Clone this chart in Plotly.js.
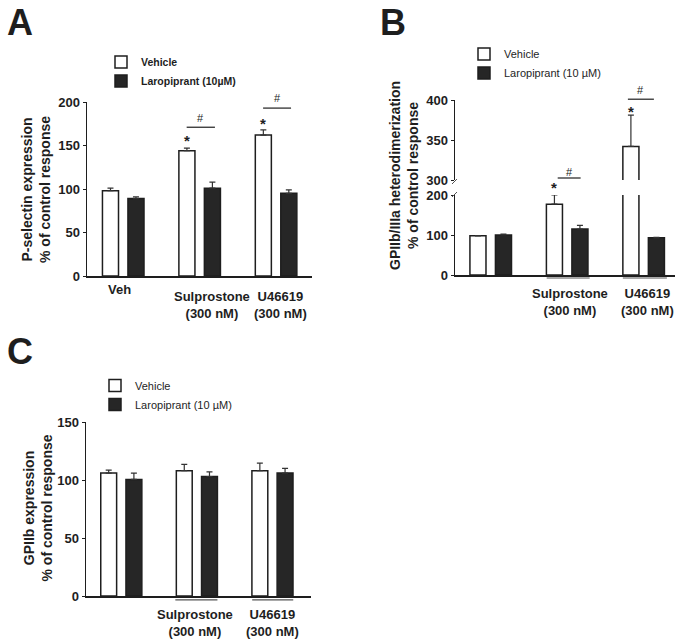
<!DOCTYPE html>
<html><head><meta charset="utf-8">
<script src="https://cdn.plot.ly/plotly-3.0.1.min.js"></script>
<style>html,body{margin:0;padding:0;background:#fff}</style>
</head><body><div id="chart" style="width:684px;height:642px"></div>
<script>
// ---------------- data ----------------
const groups = ["Veh", "Sulprostone", "U46619"];
const labelsA = ["Veh", "Sulprostone<br>(300 nM)", "U46619<br>(300 nM)"];
const labelsBC = ["", "Sulprostone<br>(300 nM)", "U46619<br>(300 nM)"];

// Panel A: P-selectin expression (% of control response)
const vehicleA = [98, 144, 162];
const vehicleErrA = [3, 3, 6];
const laroA = [89, 101, 95];
const laroErrA = [2, 7, 4];

// Panel B: GPIIb/IIIa heterodimerization (% of control response)
const vehicleB = [98, 177, 342];
const vehicleErrB = [0.5, 23, 39];
const laroB = [100, 115, 93];
const laroErrB = [2, 9, 1];

// Panel C: GPIIb expression (% of control response)
const vehicleC = [106, 108, 108];
const vehicleErrC = [2.5, 5.5, 6.5];
const laroC = [100.5, 103, 106];
const laroErrC = [5.5, 4, 4];

const ticksA = [0, 50, 100, 150, 200];
const ticksBlow = [0, 100, 200];
const ticksBup = [300, 350, 400];
const ticksC = [0, 50, 100, 150];

// ---------------- layout geometry (px) ----------------
const W = 684, H = 642;
const G = {
  A: {x: [87, 312], y: [102, 276], xr: [-0.474, 2.47], yr: [0, 200]},
  B: {x: [455, 675], y: [195, 275], xr: [-0.467, 2.41], yr: [0, 200]},
  Bu: {x: [455, 675], y: [100, 180], xr: [-0.467, 2.41], yr: [300, 400]},
  C: {x: [86, 311], y: [422, 596], xr: [-0.467, 2.51], yr: [0, 150]}
};
const domX = g => [g.x[0] / W, g.x[1] / W];
const domY = g => [1 - g.y[1] / H, 1 - g.y[0] / H];
// data -> paper
const px = (g, idx) => { const f = (idx - g.xr[0]) / (g.xr[1] - g.xr[0]); return (g.x[0] + f * (g.x[1] - g.x[0])) / W; };
const py = (g, v) => { const f = (v - g.yr[0]) / (g.yr[1] - g.yr[0]); return 1 - (g.y[1] - f * (g.y[1] - g.y[0])) / H; };
const ppx = p => p / W, ppy = p => 1 - p / H;

const FONT = "Arial, 'Liberation Sans', Helvetica, sans-serif";
const INK = '#1e1e1e';
const DARK = '#262626';

function pair(veh, vehErr, laro, laroErr, xa, ya, legend, show, laroName) {
  const zeros = veh.map(() => 0);
  return [
    {type: 'bar', name: 'Vehicle', x: groups, y: veh, xaxis: xa, yaxis: ya,
     legend: legend, showlegend: show,
     marker: {color: '#ffffff', line: {color: INK, width: 1.5}},
     error_y: {type: 'data', symmetric: false, array: vehErr, arrayminus: zeros,
               color: '#333', thickness: 1.2, width: 3}},
    {type: 'bar', name: laroName, x: groups, y: laro, xaxis: xa, yaxis: ya,
     legend: legend, showlegend: show,
     marker: {color: DARK, line: {color: INK, width: 1.5}},
     error_y: {type: 'data', symmetric: false, array: laroErr, arrayminus: zeros,
               color: '#333', thickness: 1.2, width: 3}}
  ];
}

const traces = [].concat(
  pair(vehicleA, vehicleErrA, laroA, laroErrA, 'x', 'y', 'legend', true, 'Laropiprant (10µM)'),
  pair(vehicleB, vehicleErrB, laroB, laroErrB, 'x2', 'y2', 'legend2', true, 'Laropiprant (10 µM)'),
  pair(vehicleB, vehicleErrB, laroB, laroErrB, 'x2', 'y3', 'legend2', false, 'Laropiprant (10 µM)'),
  pair(vehicleC, vehicleErrC, laroC, laroErrC, 'x3', 'y4', 'legend3', true, 'Laropiprant (10 µM)')
);

const yAx = (g, tv, anchor) => ({
  domain: domY(g), range: g.yr, anchor: anchor, tickvals: tv,
  showline: true, linecolor: INK, linewidth: 1.5, ticks: 'outside', ticklen: 3,
  tickwidth: 1, tickcolor: INK, showgrid: false, zeroline: false, fixedrange: true,
  tickfont: {family: FONT, size: 13, color: INK, weight: 'bold'}
});
const xAx = (g, anchor) => ({
  domain: domX(g), range: g.xr, anchor: anchor, type: 'category',
  showline: true, linecolor: INK, linewidth: 1.5, ticks: '', showticklabels: false,
  showgrid: false, zeroline: false, fixedrange: true
});

const ann = [];
const shapes = [];
const txt = (x, y, text, size, bold, extra) => ann.push(Object.assign({
  xref: 'paper', yref: 'paper', x: x, y: y, text: text, showarrow: false,
  xanchor: 'center', yanchor: 'middle',
  font: {family: FONT, size: size, color: INK, weight: bold ? 'bold' : 'normal'}
}, extra || {}));
const line = (x0, y0, x1, y1, w, c) => shapes.push({type: 'line', xref: 'paper', yref: 'paper',
  x0: x0, y0: y0, x1: x1, y1: y1, line: {color: c || INK, width: w || 1.2}});

// panel letters
txt(ppx(5), ppy(0), 'A', 36, true, {xanchor: 'left', yanchor: 'top'});
txt(ppx(378), ppy(0), 'B', 36, true, {xanchor: 'left', yanchor: 'top'});
txt(ppx(5), ppy(329), 'C', 36, true, {xanchor: 'left', yanchor: 'top'});

// y titles
txt(ppx(36), ppy(190), 'P-selectin expression<br>% of control response', 14, true, {textangle: -90});
txt(ppx(404), ppy(176), 'GPIIb/IIIa heterodimerization<br>% of control response', 14, true, {textangle: -90});
txt(ppx(37.5), ppy(508), 'GPIIb expression<br>% of control response', 14, true, {textangle: -90});

// x category labels
const labShiftA = [-4, 12.5, 4], labShiftB = [0, 2.5, 4], labShiftC = [0, -1.5, 0];
labelsA.forEach((l, i) => txt(px(G.A, i), ppy(i === 0 ? 290 : 304.5), l, 13, true, {xshift: labShiftA[i]}));
labelsBC.forEach((l, i) => { if (l) txt(px(G.B, i), ppy(301.5), l, 13, true, {xshift: labShiftB[i]}); });
labelsBC.forEach((l, i) => { if (l) txt(px(G.C, i), ppy(623), l, 13, true, {xshift: labShiftC[i]}); });

// group underlines (B, C)
line(px(G.B, 1 - 0.268), py(G.B, -7.5), px(G.B, 1 + 0.294), py(G.B, -7.5), 1.2, '#555');
line(px(G.B, 2 - 0.272), py(G.B, -7.5), px(G.B, 2 + 0.304), py(G.B, -7.5), 1.2, '#555');
line(px(G.C, 1 - 0.285), py(G.C, -3.4), px(G.C, 1 + 0.272), py(G.C, -3.4), 1.2, '#555');
line(px(G.C, 2 - 0.268), py(G.C, -3.4), px(G.C, 2 + 0.275), py(G.C, -3.4), 1.2, '#555');

// significance marks
const off = 1 / 6;
function sig(g, i, starY, lineY, hashY, l0, l1) {
  txt(px(g, i - off), py(g, starY), '*', 15, true, {yshift: -3});
  line(px(g, i + l0), py(g, lineY), px(g, i + l1), py(g, lineY), 1.2);
  txt(px(g, i + (l0 + l1) / 2), py(g, hashY), '#', 11, false);
}
sig(G.A, 1, 159, 171, 182, -0.17, 0.2);
sig(G.A, 2, 179, 193, 205, -0.17, 0.196);
sig(G.B, 1, 225, 242.5, 257.5, -0.124, 0.176);
sig(G.Bu, 2, 390, 401, 412, -0.206, 0.134);

// axis break marks in B
line(ppx(452), ppy(184), ppx(457), ppy(179), 1, '#555');
line(ppx(452), ppy(197), ppx(457), ppy(192), 1, '#555');

const legBase = {xanchor: 'left', yanchor: 'top', bgcolor: 'rgba(0,0,0,0)', borderwidth: 0,
                 tracegroupgap: 0, orientation: 'v'};

const layout = {
  width: W, height: H, margin: {l: 0, r: 0, t: 0, b: 0},
  paper_bgcolor: '#ffffff', plot_bgcolor: 'rgba(0,0,0,0)',
  barmode: 'group', bargap: 0.333, bargroupgap: 0.37,
  font: {family: FONT, color: INK},
  xaxis: xAx(G.A, 'y'), yaxis: yAx(G.A, ticksA, 'x'),
  xaxis2: xAx(G.B, 'y2'), yaxis2: yAx(G.B, ticksBlow, 'x2'), yaxis3: yAx(G.Bu, ticksBup, 'x2'),
  xaxis3: xAx(G.C, 'y4'), yaxis4: yAx(G.C, ticksC, 'x3'),
  legend: Object.assign({}, legBase, {x: ppx(101), y: ppy(47.5), font: {family: FONT, size: 10.5, color: INK, weight: 'bold'}}),
  legend2: Object.assign({}, legBase, {x: ppx(464), y: ppy(39.5), font: {family: FONT, size: 11, color: INK}}),
  legend3: Object.assign({}, legBase, {x: ppx(95), y: ppy(371), font: {family: FONT, size: 11, color: INK}}),
  annotations: ann, shapes: shapes, showlegend: true
};

Plotly.newPlot('chart', traces, layout, {displayModeBar: false, staticPlot: true});
</script></body></html>
